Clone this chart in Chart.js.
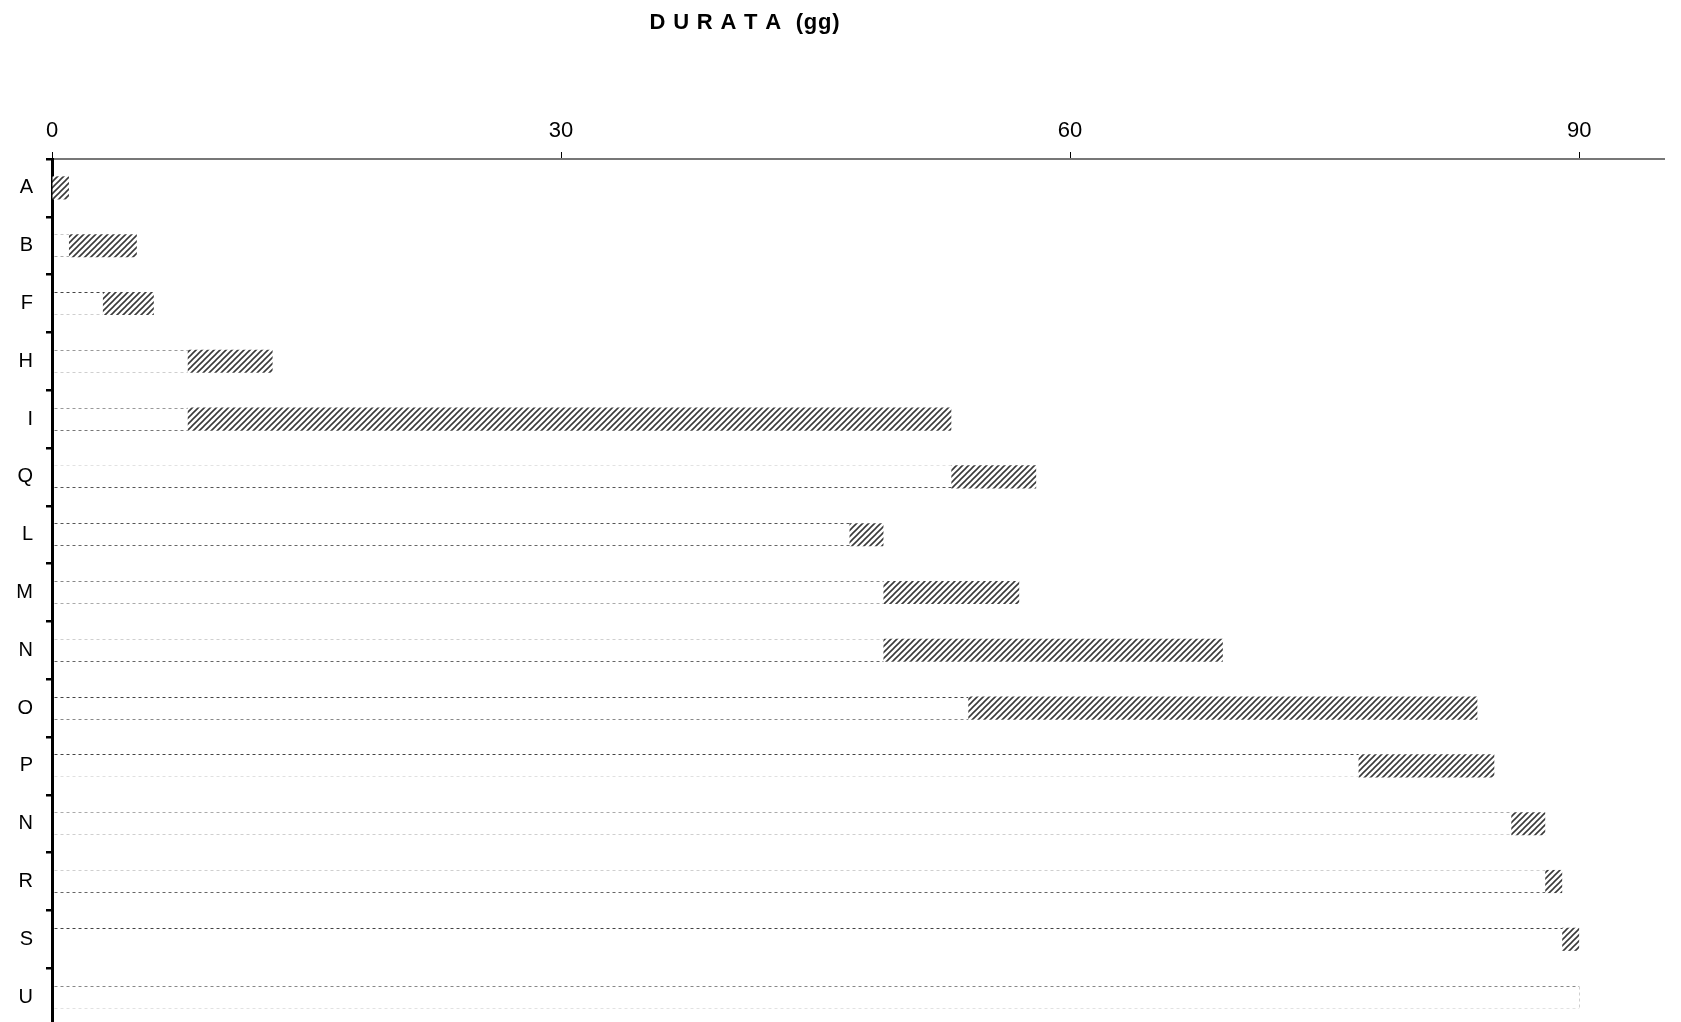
<!DOCTYPE html>
<html>
<head>
<meta charset="utf-8">
<script src="https://cdn.jsdelivr.net/npm/chart.js@4.4.1/dist/chart.umd.min.js"></script>
<style>
  html, body { margin: 0; padding: 0; background: #fff; overflow: hidden; }
  #wrap { width: 1681px; height: 1051px; position: relative; }
</style>
</head>
<body>
<div id="wrap"><canvas id="gantt"></canvas></div>
<script>
// activities and their start / end day
const tasks = ["A", "B", "F", "H", "I", "Q", "L", "M", "N", "O", "P", "N", "R", "S", "U"];
const startDays = [0, 1, 3, 8, 8, 53, 47, 49, 49, 54, 77, 86, 88, 89, 90];
const endDays = [1, 5, 6, 13, 53, 58, 49, 57, 69, 84, 85, 88, 89, 90, 90];
const dayTicks = [0, 30, 60, 90];
const chartTitle = "D U R A T A  (gg)";

// grey of the dashed edges of each slack box (top, bottom)
const slackTop = [null, "#c8c8c8", "#444", "#999", "#999", "#e2e2e2", "#555", "#888", "#cfcfcf", "#444", "#444", "#aaa", "#cfcfcf", "#444", "#888"];
const slackBottom = [null, "#aaa", "#cfcfcf", "#cfcfcf", "#777", "#555", "#666", "#aaa", "#666", "#888", "#e0e0e0", "#cfcfcf", "#666", null, "#e2e2e2"];

function hatch() {
  var n = 6;
  var c = document.createElement("canvas");
  c.width = n;
  c.height = n;
  var g = c.getContext("2d");
  g.fillStyle = "#fff";
  g.fillRect(0, 0, n, n);
  g.strokeStyle = "#3a3a3a";
  g.lineWidth = 1.6;
  g.beginPath();
  g.moveTo(-1, n + 1); g.lineTo(n + 1, -1);
  g.moveTo(-1, 1); g.lineTo(1, -1);
  g.moveTo(n - 1, n + 1); g.lineTo(n + 1, n - 1);
  g.stroke();
  return g.createPattern(c, "repeat");
}

const slackLines = {
  id: "slackLines",
  afterDatasetsDraw(chart) {
    var ctx = chart.ctx;
    var meta = chart.getDatasetMeta(0);
    meta.data.forEach(function (bar, i) {
      if (startDays[i] === 0) return;
      var p = bar.getProps(["x", "y", "base", "height"], true);
      var x0 = Math.min(p.x, p.base), x1 = Math.max(p.x, p.base);
      var top = Math.round(p.y - p.height / 2) + 0.5;
      var bot = Math.round(p.y + p.height / 2) - 0.5;
      ctx.save();
      ctx.lineWidth = 1;
      ctx.setLineDash([3, 3]);
      if (slackTop[i]) {
        ctx.strokeStyle = slackTop[i];
        ctx.beginPath(); ctx.moveTo(x0 + 2, top); ctx.lineTo(x1, top); ctx.stroke();
      }
      if (slackBottom[i]) {
        ctx.strokeStyle = slackBottom[i];
        ctx.beginPath(); ctx.moveTo(x0 + 2, bot); ctx.lineTo(x1, bot); ctx.stroke();
      }
      // milestone with no duration: close the box on the right
      if (endDays[i] === startDays[i]) {
        ctx.strokeStyle = "#cfcfcf";
        ctx.beginPath(); ctx.moveTo(Math.round(x1) + 0.5, top); ctx.lineTo(Math.round(x1) + 0.5, bot); ctx.stroke();
      }
      ctx.restore();
    });
  }
};

const titleText = {
  id: "titleText",
  afterDraw(chart) {
    var ctx = chart.ctx;
    ctx.save();
    ctx.font = 'bold 22px "Liberation Sans", Arial, sans-serif';
    ctx.letterSpacing = "0.8px";
    ctx.fillStyle = "#000";
    ctx.textAlign = "center";
    ctx.textBaseline = "middle";
    ctx.fillText(chartTitle, 745, 23);
    ctx.restore();
  }
};

new Chart(document.getElementById("gantt"), {
  type: "bar",
  data: {
    labels: tasks,
    datasets: [
      {
        label: "slack",
        data: startDays.map((s) => (s > 0 ? [0, s] : null)),
        backgroundColor: "rgba(0,0,0,0)",
        borderWidth: 0,
        grouped: false,
      },
      {
        label: "durata",
        data: startDays.map((s, i) => [s, endDays[i]]),
        backgroundColor: hatch(),
        borderWidth: 0,
        grouped: false,
      },
    ],
  },
  options: {
    indexAxis: "y",
    responsive: true,
    maintainAspectRatio: false,
    animation: false,
    categoryPercentage: 1,
    barPercentage: 0.4,
    layout: { padding: { top: 44, right: 17, bottom: 5, left: 0 } },
    plugins: {
      legend: { display: false },
      tooltip: { enabled: false },
      title: { display: false },
    },
    scales: {
      x: {
        type: "linear",
        position: "top",
        min: 0,
        max: 95,
        afterBuildTicks: (scale) => {
          scale.ticks = dayTicks.map((v) => ({ value: v }));
        },
        afterFit: (scale) => {
          scale.height = 115;
        },
        grid: {
          drawOnChartArea: false,
          drawTicks: true,
          tickLength: 7,
          color: "#000",
          lineWidth: 1,
        },
        border: { display: true, color: "#777", width: 2 },
        ticks: {
          padding: 8,
          color: "#000",
          font: { family: '"Liberation Sans", Arial, sans-serif', size: 22 },
        },
      },
      y: {
        type: "category",
        afterFit: (scale) => {
          scale.width = 52;
        },
        grid: {
          offset: true,
          drawOnChartArea: false,
          drawTicks: true,
          tickLength: 6,
          color: "#000",
          lineWidth: 2.5,
        },
        border: { display: true, color: "#000", width: 3 },
        ticks: {
          padding: 13,
          color: "#000",
          font: { family: '"Liberation Sans", Arial, sans-serif', size: 20 },
        },
      },
    },
  },
  plugins: [slackLines, titleText],
});
</script>
</body>
</html>
